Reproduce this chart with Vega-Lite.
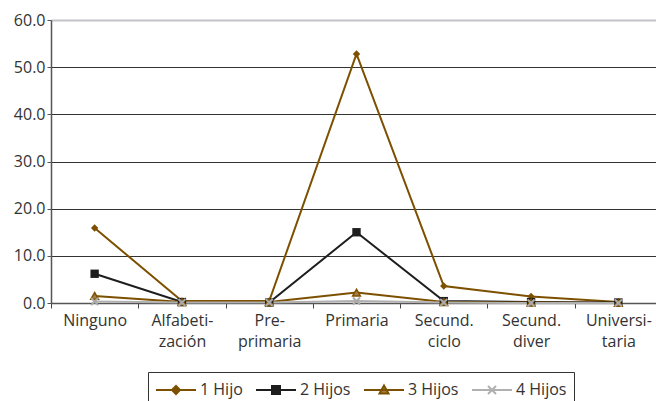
{
  "$schema": "https://vega.github.io/schema/vega-lite/v6.json",
  "autosize": "none",
  "width": 611,
  "height": 283,
  "padding": {"left": 51, "top": 20, "right": 0, "bottom": 98},
  "config": {
    "view": {"stroke": null},
    "font": "Open Sans"
  },
  "data": {
    "values": [
      {"nivel": "Ninguno", "serie": "1 Hijo", "valor": 15.9},
      {"nivel": "Alfabetización", "serie": "1 Hijo", "valor": 0.4},
      {"nivel": "Pre-primaria", "serie": "1 Hijo", "valor": 0.4},
      {"nivel": "Primaria", "serie": "1 Hijo", "valor": 52.8},
      {"nivel": "Secund. ciclo", "serie": "1 Hijo", "valor": 3.6},
      {"nivel": "Secund. diver", "serie": "1 Hijo", "valor": 1.4},
      {"nivel": "Universitaria", "serie": "1 Hijo", "valor": 0.2},
      {"nivel": "Ninguno", "serie": "2 Hijos", "valor": 6.2},
      {"nivel": "Alfabetización", "serie": "2 Hijos", "valor": 0.2},
      {"nivel": "Pre-primaria", "serie": "2 Hijos", "valor": 0.1},
      {"nivel": "Primaria", "serie": "2 Hijos", "valor": 15.0},
      {"nivel": "Secund. ciclo", "serie": "2 Hijos", "valor": 0.4},
      {"nivel": "Secund. diver", "serie": "2 Hijos", "valor": 0.2},
      {"nivel": "Universitaria", "serie": "2 Hijos", "valor": 0.1},
      {"nivel": "Ninguno", "serie": "3 Hijos", "valor": 1.5},
      {"nivel": "Alfabetización", "serie": "3 Hijos", "valor": 0.2},
      {"nivel": "Pre-primaria", "serie": "3 Hijos", "valor": 0.2},
      {"nivel": "Primaria", "serie": "3 Hijos", "valor": 2.2},
      {"nivel": "Secund. ciclo", "serie": "3 Hijos", "valor": 0.2},
      {"nivel": "Secund. diver", "serie": "3 Hijos", "valor": 0.1},
      {"nivel": "Universitaria", "serie": "3 Hijos", "valor": 0.0},
      {"nivel": "Ninguno", "serie": "4 Hijos", "valor": 0.3},
      {"nivel": "Alfabetización", "serie": "4 Hijos", "valor": 0.1},
      {"nivel": "Pre-primaria", "serie": "4 Hijos", "valor": 0.1},
      {"nivel": "Primaria", "serie": "4 Hijos", "valor": 0.4},
      {"nivel": "Secund. ciclo", "serie": "4 Hijos", "valor": 0.1},
      {"nivel": "Secund. diver", "serie": "4 Hijos", "valor": 0.0},
      {"nivel": "Universitaria", "serie": "4 Hijos", "valor": 0.0}
    ]
  },
  "encoding": {
    "x": {
      "field": "nivel",
      "type": "nominal",
      "sort": ["Ninguno", "Alfabetización", "Pre-primaria", "Primaria", "Secund. ciclo", "Secund. diver", "Universitaria"],
      "scale": {"type": "band", "paddingInner": 0, "paddingOuter": 0},
      "axis": {
        "title": null,
        "labelAngle": 0,
        "labelFontSize": 16,
        "labelColor": "#333333",
        "labelPadding": 4,
        "labelLineHeight": 21,
        "labelBaseline": "top",
        "tickBand": "extent",
        "tickColor": "#444444",
        "tickSize": 5,
        "domainColor": "#555555",
        "domainWidth": 1.5,
        "labelExpr": "datum.value == 'Alfabetización' ? ['Alfabeti-','zación'] : datum.value == 'Pre-primaria' ? ['Pre-','primaria'] : datum.value == 'Secund. ciclo' ? ['Secund.','ciclo'] : datum.value == 'Secund. diver' ? ['Secund.','diver'] : datum.value == 'Universitaria' ? ['Universi-','taria'] : datum.value"
      }
    },
    "y": {
      "field": "valor",
      "type": "quantitative",
      "scale": {"domain": [0, 60], "nice": false},
      "axis": {
        "title": null,
        "values": [0, 10, 20, 30, 40, 50, 60],
        "format": ".1f",
        "labelFontSize": 16,
        "labelColor": "#333333",
        "labelPadding": 2,
        "tickSize": 4,
        "tickColor": "#555555",
        "domainColor": "#555555",
        "domainWidth": 1.5,
        "gridColor": {"condition": {"test": "datum.value == 60", "value": "#c4c4c8"}, "value": "#333333"},
        "gridWidth": {"condition": {"test": "datum.value == 60", "value": 2}, "value": 1}
      }
    }
  },
  "layer": [
    {
      "mark": {"type": "line", "strokeWidth": 2},
      "encoding": {
        "stroke": {
          "field": "serie",
          "type": "nominal",
          "scale": {"domain": ["1 Hijo", "2 Hijos", "3 Hijos", "4 Hijos"], "range": ["#7d5000", "#1e1e1e", "#7d5000", "#b0b0b0"]},
          "legend": {
            "title": null,
            "orient": "none",
            "legendX": 97,
            "legendY": 352,
            "direction": "horizontal",
            "columns": 4,
            "labelFontSize": 16,
            "labelColor": "#333333",
            "labelOffset": 23,
            "columnPadding": 9,
            "symbolSize": 400,
            "symbolStrokeWidth": 2,
            "padding": 7,
            "strokeColor": "#333333",
            "fillColor": "white",
            "encode": {
              "symbols": {
                "update": {
                  "shape": {"signal": "datum.value == '1 Hijo' ? 'M-1,0H3M0.6,0L1,-0.4L1.4,0L1,0.4Z' : datum.value == '2 Hijos' ? 'M-1,0H3M0.6,-0.4H1.4V0.4H0.6Z' : datum.value == '3 Hijos' ? 'M-1,0H3M0.55,0.35L1,-0.45L1.45,0.35Z' : 'M-1,0H3M0.6,-0.4L1.4,0.4M0.6,0.4L1.4,-0.4'"},
                  "fill": {"signal": "datum.value == '1 Hijo' ? '#7d5000' : datum.value == '2 Hijos' ? '#1e1e1e' : datum.value == '3 Hijos' ? '#a5804a' : 'transparent'"},
                  "fillOpacity": {"value": 1}
                }
              }
            }
          }
        },
        "order": {"field": "serie"}
      }
    },
    {
      "transform": [{"filter": "datum.serie == '1 Hijo'"}],
      "mark": {"type": "point", "shape": "diamond", "filled": true, "color": "#7d5000", "opacity": 1, "size": 55}
    },
    {
      "transform": [{"filter": "datum.serie == '2 Hijos'"}],
      "mark": {"type": "point", "shape": "square", "filled": true, "color": "#1e1e1e", "opacity": 1, "size": 70}
    },
    {
      "transform": [{"filter": "datum.serie == '3 Hijos'"}],
      "mark": {"type": "point", "shape": "triangle-up", "fill": "#a5804a", "stroke": "#7d5000", "strokeWidth": 1.5, "opacity": 1, "size": 60}
    },
    {
      "transform": [{"filter": "datum.serie == '4 Hijos'"}],
      "mark": {"type": "point", "shape": "M-1,-1L1,1M-1,1L1,-1", "filled": false, "stroke": "#aaaaaa", "strokeWidth": 2, "opacity": 1, "size": 50}
    }
  ]
}
